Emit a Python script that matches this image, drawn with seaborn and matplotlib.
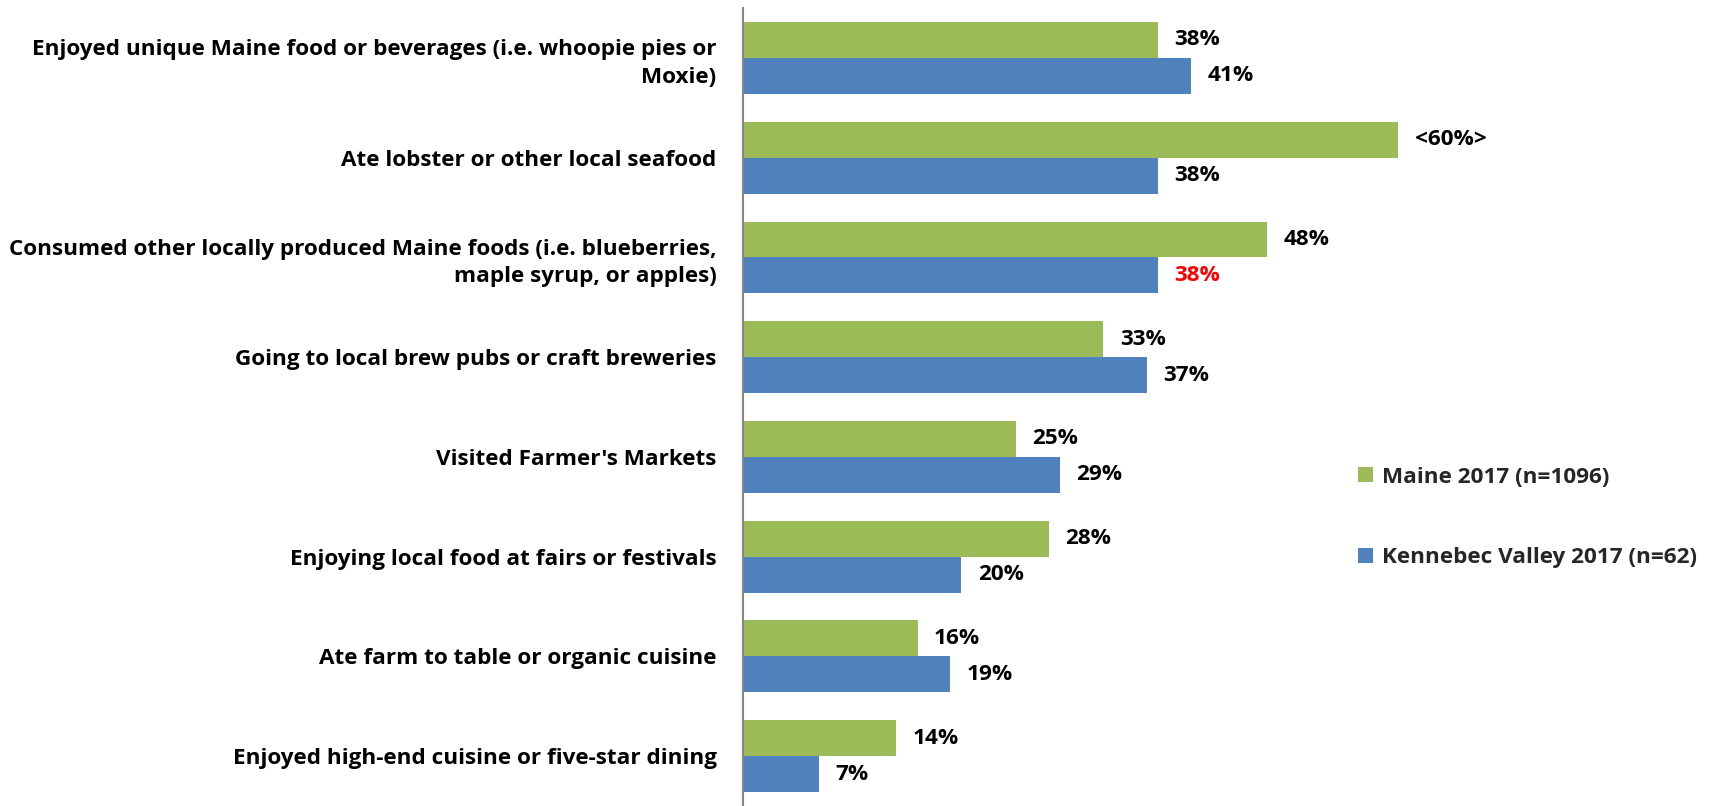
import matplotlib
matplotlib.use("Agg")
import matplotlib.pyplot as plt
import seaborn as sns
import pandas as pd

categories = [
    "Enjoyed unique Maine food or beverages (i.e. whoopie pies or\nMoxie)",
    "Ate lobster or other local seafood",
    "Consumed other locally produced Maine foods (i.e. blueberries,\nmaple syrup, or apples)",
    "Going to local brew pubs or craft breweries",
    "Visited Farmer's Markets",
    "Enjoying local food at fairs or festivals",
    "Ate farm to table or organic cuisine",
    "Enjoyed high-end cuisine or five-star dining",
]
series_names = ["Maine 2017 (n=1096)", "Kennebec Valley 2017 (n=62)"]
maine_2017 = [38, 60, 48, 33, 25, 28, 16, 14]
kennebec_2017 = [41, 38, 38, 37, 29, 20, 19, 7]
maine_labels = ["38%", "<60%>", "48%", "33%", "25%", "28%", "16%", "14%"]
kennebec_labels = ["41%", "38%", "38%", "37%", "29%", "20%", "19%", "7%"]
kennebec_label_colors = ["black", "black", "red", "black", "black", "black", "black", "black"]

colors = ["#9BBB59", "#4F81BD"]

df = pd.DataFrame({
    "category": categories * 2,
    "value": maine_2017 + kennebec_2017,
    "series": [series_names[0]] * len(categories) + [series_names[1]] * len(categories),
})

sns.set_theme(style="white")
plt.rcParams["font.family"] = ["Open Sans", "DejaVu Sans"]
plt.rcParams["font.weight"] = "bold"

FS = 16.2

fig = plt.figure(figsize=(17.13, 8.06), dpi=100)
ax = fig.add_axes([0.4337, 0.0, 0.5663, 0.99])

sns.barplot(data=df, x="value", y="category", hue="series", orient="h",
            palette=colors, saturation=1, width=0.72, gap=0, linewidth=0,
            ax=ax, hue_order=series_names, order=categories)

ax.set_xlim(0, 88.8)
ax.set_ylim(len(categories) - 0.5, -0.5)
ax.set_xlabel("")
ax.set_ylabel("")
ax.set_xticks([])
for side in ["top", "right", "bottom"]:
    ax.spines[side].set_visible(False)
ax.spines["left"].set_color("#868686")
ax.spines["left"].set_linewidth(1.5)
ax.tick_params(axis="y", length=0, pad=19, labelsize=FS)
for t in ax.get_yticklabels():
    t.set_fontweight("bold")
    t.set_color("black")
    t.set_linespacing(1.4)

# value labels next to each bar
label_sets = [
    (ax.containers[0], maine_labels, ["black"] * len(categories)),
    (ax.containers[1], kennebec_labels, kennebec_label_colors),
]
for container, labels, lcolors in label_sets:
    for bar, lab, c in zip(container, labels, lcolors):
        y = bar.get_y() + bar.get_height() / 2
        ax.text(bar.get_width() + 1.5, y, lab, ha="left", va="center",
                fontsize=FS, fontweight="bold", color=c)

leg = ax.legend(loc="center left", bbox_to_anchor=(0.781, 0.358),
                bbox_transform=fig.transFigure, frameon=False,
                fontsize=FS, handlelength=0.65, handleheight=0.65,
                handletextpad=0.4, labelspacing=2.65)
for t in leg.get_texts():
    t.set_fontweight("bold")

fig.savefig("out.png", dpi=100)
